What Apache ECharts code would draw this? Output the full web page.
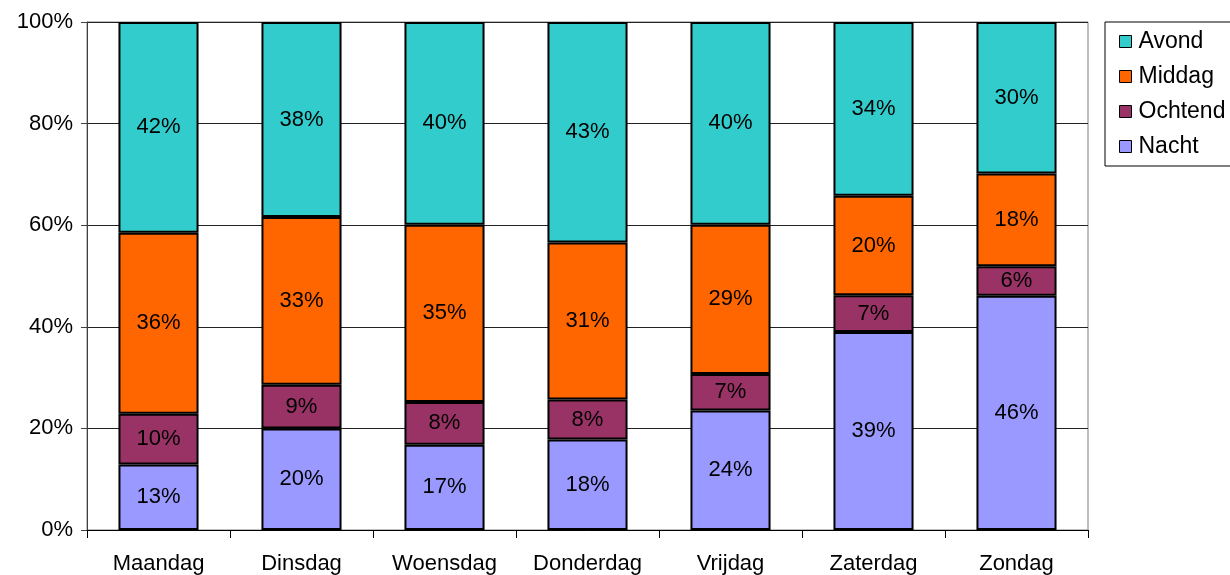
<!DOCTYPE html>
<html>
<head>
<meta charset="utf-8">
<script src="https://cdn.jsdelivr.net/npm/echarts@6/dist/echarts.min.js"></script>
<style>
  html, body { margin: 0; padding: 0; background: #fff; }
  #chart { width: 1230px; height: 575px; }
</style>
</head>
<body>
<div id="chart"></div>
<script>
// dagen van de week
var dagen = ['Maandag', 'Dinsdag', 'Woensdag', 'Donderdag', 'Vrijdag', 'Zaterdag', 'Zondag'];
// aandeel per dagdeel (%)
var nacht   = [12.9, 20.0, 16.8, 17.8, 23.5, 39.0, 46.1];
var ochtend = [10.0,  8.6,  8.4,  7.9,  7.2,  7.2,  5.8];
var middag  = [35.6, 33.0, 34.9, 30.9, 29.4, 19.6, 18.3];
var avond   = [41.5, 38.4, 39.9, 43.4, 39.9, 34.2, 29.8];
var yTicks  = [0, 20, 40, 60, 80, 100];

var font = 'Liberation Sans, Arial, sans-serif';

// basis voor elke reeks
function reeks(naam, data, kleur) {
  return {
    name: naam,
    type: 'bar',
    stack: 'totaal',
    data: data,
    barCategoryGap: '44%',
    itemStyle: { color: kleur, borderColor: '#000', borderWidth: 2 },
    label: {
      show: true,
      position: 'inside',
      color: '#000',
      fontFamily: font,
      fontSize: 22,
      formatter: function (p) { return Math.round(p.value) + '%'; }
    },
    emphasis: { disabled: true }
  };
}

var chart = echarts.init(document.getElementById('chart'));
chart.setOption({
  animation: false,
  backgroundColor: '#fff',
  grid: {
    left: 87, right: 142, top: 22, bottom: 45,
    show: true, borderColor: '#808080', borderWidth: 1
  },
  legend: {
    orient: 'vertical',
    left: 1105, top: 22,
    padding: [8, 20, 8, 14],
    borderColor: '#000', borderWidth: 1,
    itemWidth: 12, itemHeight: 12, itemGap: 12,
    icon: 'rect',
    itemStyle: { borderColor: '#000', borderWidth: 1 },
    textStyle: { fontFamily: font, fontSize: 23, color: '#000', padding: [0, 0, 0, 2] },
    data: ['Avond', 'Middag', 'Ochtend', 'Nacht']
  },
  xAxis: {
    type: 'category',
    data: dagen,
    axisLine: { lineStyle: { color: '#000', width: 1 } },
    axisTick: { show: true, length: 8, lineStyle: { color: '#000' } },
    axisLabel: { fontFamily: font, fontSize: 22, color: '#000', margin: 23 }
  },
  yAxis: {
    type: 'value',
    min: 0, max: 100, interval: 20,
    axisLine: { show: true, lineStyle: { color: '#404040' } },
    axisTick: { show: true, length: 6, lineStyle: { color: '#404040' } },
    splitLine: { lineStyle: { color: '#222', width: 1 } },
    axisLabel: {
      fontFamily: font, fontSize: 22, color: '#000', margin: 14,
      formatter: function (v) { return yTicks.indexOf(v) >= 0 ? v + '%' : ''; }
    }
  },
  series: [
    reeks('Nacht', nacht, '#9999FF'),
    reeks('Ochtend', ochtend, '#993366'),
    reeks('Middag', middag, '#FF6600'),
    reeks('Avond', avond, '#33CCCC')
  ]
});
</script>
</body>
</html>
